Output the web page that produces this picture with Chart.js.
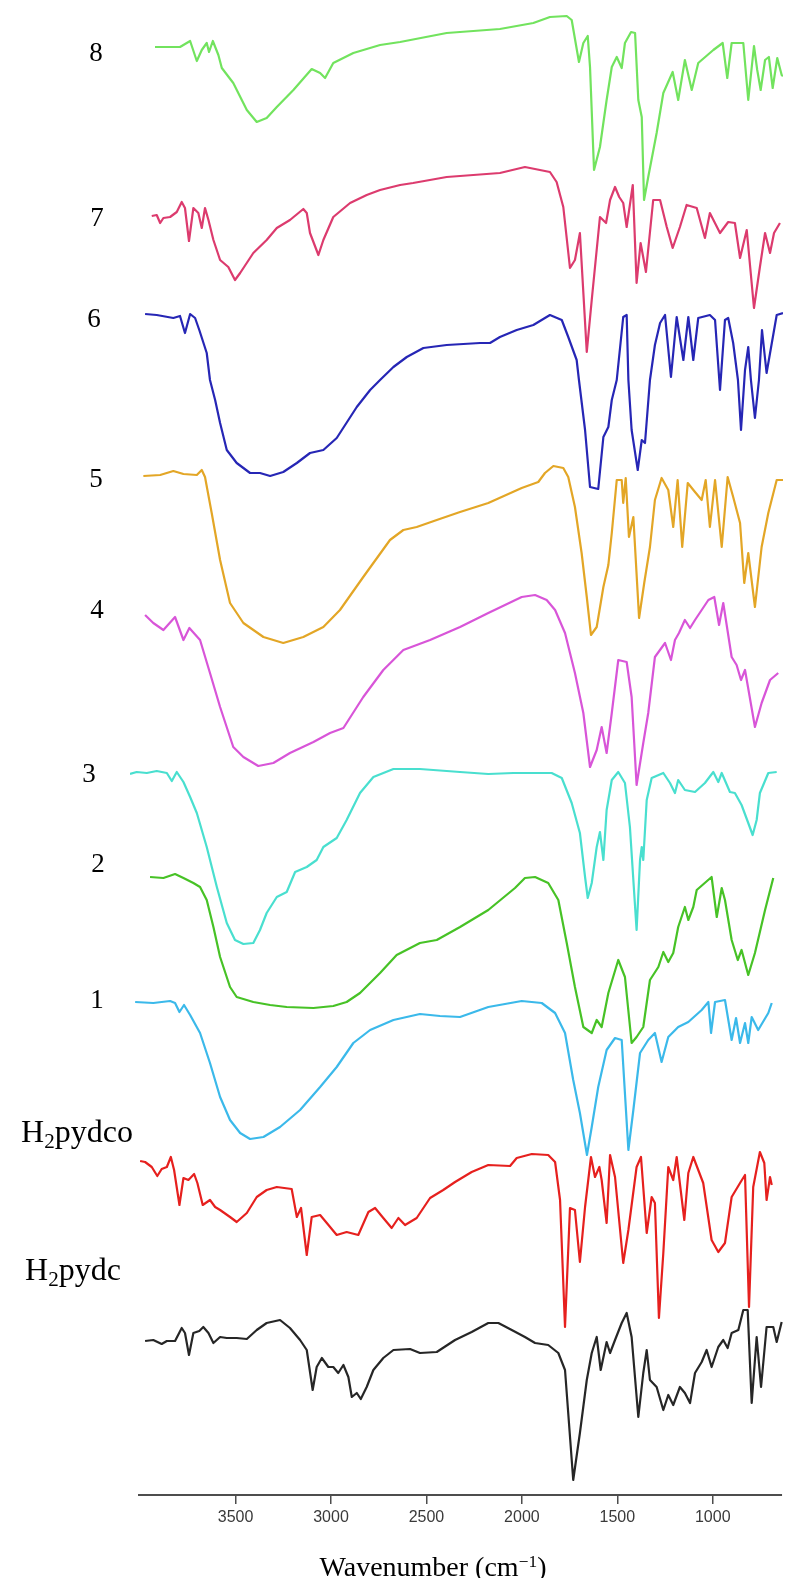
<!DOCTYPE html>
<html>
<head>
<meta charset="utf-8">
<title>FT-IR spectra</title>
<script src="https://cdn.jsdelivr.net/npm/chart.js@4.4.0/dist/chart.umd.min.js"></script>
<style>
  html, body { margin: 0; padding: 0; background: #fff; }
  #wrap { position: relative; width: 785px; height: 1578px; overflow: hidden; }
  #chart { position: absolute; left: 0; top: 0; }
  .lbl {
    position: absolute;
    font-family: "Liberation Serif", "Times New Roman", serif;
    font-size: 27px;
    color: #000;
    line-height: 1;
    white-space: nowrap;
    transform: translate(-50%, -50%);
  }
  .lbl.long { font-size: 32px; }
  .lbl sub { font-size: 0.66em; vertical-align: -0.28em; }
  #xtitle {
    position: absolute;
    left: 433px;
    top: 1567px;
    transform: translate(-50%, -50%);
    font-family: "Liberation Serif", "Times New Roman", serif;
    font-size: 28px;
    color: #000;
    white-space: nowrap;
    line-height: 1;
  }
  #xtitle sup { font-size: 0.62em; vertical-align: 0.55em; }
</style>
</head>
<body>
<div id="wrap">
  <canvas id="chart" width="785" height="1578"></canvas>
  <div id="xtitle">Wavenumber (cm<sup>−1</sup>)</div>
</div>
<script>
// Wavenumber tick labels (cm-1)
const tickValues = [3500, 3000, 2500, 2000, 1500, 1000];
const axisFrom = 4011;
const axisTo = 637;

// Stacked transmittance traces, [wavenumber, offset transmittance (a.u.)]
const spec8 = [[3922,1441],[3791,1441],[3738,1447],[3703,1427],[3677,1438],[3651,1445],[3639,1436],[3619,1447],[3590,1433],[3572,1420],[3512,1405],[3441,1378],[3389,1366],[3337,1370],[3284,1381],[3197,1398],[3101,1419],[3057,1415],[3031,1410],[2988,1425],[2883,1435],[2743,1443],[2638,1446],[2394,1455],[2115,1459],[1940,1465],[1853,1471],[1765,1472],[1739,1468],[1701,1426],[1678,1445],[1655,1452],[1643,1421],[1622,1318],[1591,1341],[1556,1388],[1529,1421],[1503,1431],[1477,1420],[1460,1445],[1428,1456],[1407,1455],[1390,1388],[1372,1371],[1360,1288],[1338,1311],[1294,1355],[1259,1395],[1210,1416],[1181,1388],[1146,1428],[1110,1398],[1076,1425],[997,1438],[948,1445],[924,1410],[901,1445],[840,1445],[814,1388],[784,1442],[767,1418],[749,1398],[726,1428],[706,1431],[686,1400],[662,1430],[639,1413],[632,1412]];

const spec7 = [[3939,1272],[3913,1273],[3895,1265],[3878,1270],[3843,1271],[3808,1276],[3782,1286],[3765,1280],[3744,1247],[3721,1280],[3695,1275],[3677,1260],[3660,1280],[3642,1268],[3616,1248],[3581,1228],[3538,1221],[3503,1208],[3476,1215],[3407,1235],[3337,1248],[3284,1260],[3215,1268],[3145,1279],[3127,1275],[3110,1255],[3066,1233],[3040,1248],[2988,1271],[2900,1285],[2813,1293],[2743,1298],[2638,1303],[2570,1305],[2394,1311],[2115,1315],[1984,1321],[1853,1316],[1818,1306],[1783,1281],[1748,1220],[1722,1228],[1696,1255],[1660,1136],[1634,1188],[1591,1271],[1559,1265],[1538,1288],[1512,1301],[1490,1291],[1469,1285],[1451,1261],[1419,1303],[1399,1205],[1378,1245],[1350,1216],[1312,1288],[1276,1288],[1241,1261],[1210,1240],[1172,1261],[1137,1283],[1084,1280],[1041,1250],[1015,1275],[962,1255],[919,1266],[884,1265],[857,1230],[822,1258],[784,1180],[753,1221],[726,1255],[700,1235],[679,1255],[648,1265]];

const spec6 = [[3974,1174],[3913,1173],[3826,1170],[3791,1172],[3765,1155],[3738,1174],[3712,1170],[3690,1158],[3651,1135],[3634,1108],[3607,1088],[3581,1065],[3546,1038],[3494,1025],[3424,1015],[3372,1015],[3319,1012],[3250,1016],[3179,1025],[3110,1035],[3040,1038],[2970,1050],[2865,1081],[2795,1098],[2743,1108],[2673,1121],[2603,1131],[2516,1140],[2394,1143],[2219,1145],[2167,1145],[2115,1151],[2027,1158],[1940,1163],[1853,1173],[1791,1168],[1757,1151],[1713,1128],[1701,1108],[1669,1058],[1643,1001],[1600,999],[1573,1051],[1547,1061],[1529,1088],[1503,1108],[1469,1171],[1451,1173],[1442,1108],[1425,1058],[1393,1018],[1372,1048],[1355,1045],[1329,1108],[1303,1143],[1276,1165],[1250,1173],[1219,1111],[1189,1171],[1154,1128],[1128,1171],[1102,1128],[1076,1170],[1015,1173],[988,1168],[962,1098],[936,1168],[919,1170],[893,1145],[868,1108],[852,1058],[831,1118],[814,1141],[800,1108],[779,1070],[758,1108],[742,1158],[718,1115],[665,1173],[632,1175]];

const spec5 = [[3983,1012],[3895,1013],[3826,1017],[3773,1014],[3703,1013],[3677,1018],[3660,1011],[3625,975],[3581,928],[3529,885],[3459,865],[3354,851],[3250,845],[3145,851],[3040,861],[2953,878],[2831,911],[2691,948],[2621,958],[2551,961],[2446,968],[2324,976],[2176,985],[2001,1000],[1914,1006],[1879,1015],[1835,1022],[1783,1020],[1757,1011],[1722,981],[1687,935],[1660,891],[1638,853],[1608,861],[1573,901],[1547,923],[1529,955],[1503,1008],[1477,1008],[1469,985],[1456,1010],[1439,951],[1416,971],[1386,870],[1359,905],[1329,941],[1303,988],[1268,1010],[1233,998],[1207,961],[1184,1008],[1160,941],[1131,1005],[1093,996],[1058,988],[1037,1008],[1015,961],[988,1008],[953,941],[922,1011],[893,991],[857,965],[835,905],[814,935],[779,881],[744,941],[709,975],[665,1008],[632,1008]];

const spec4 = [[3974,873],[3931,865],[3878,858],[3817,871],[3773,848],[3742,860],[3686,848],[3634,815],[3581,781],[3512,741],[3459,731],[3381,722],[3302,725],[3215,735],[3092,746],[3005,755],[2935,760],[2831,791],[2726,818],[2621,838],[2481,848],[2324,861],[2176,875],[2001,891],[1931,893],[1870,888],[1826,878],[1774,855],[1722,815],[1678,775],[1643,721],[1608,738],[1582,761],[1556,735],[1529,775],[1495,828],[1451,826],[1425,791],[1399,703],[1364,745],[1338,775],[1303,831],[1250,845],[1219,828],[1198,848],[1177,855],[1146,868],[1119,860],[1093,868],[1023,888],[992,891],[967,863],[945,885],[901,831],[875,823],[852,808],[831,818],[779,761],[744,785],[700,808],[657,815]];

const spec3 = [[4053,714],[4018,716],[3965,715],[3913,717],[3860,715],[3834,707],[3808,716],[3773,706],[3738,691],[3703,675],[3651,641],[3598,601],[3546,565],[3503,548],[3459,544],[3407,545],[3372,558],[3337,575],[3284,591],[3232,596],[3188,616],[3127,621],[3075,628],[3040,641],[2970,650],[2918,668],[2848,695],[2778,711],[2673,719],[2534,719],[2324,716],[2176,714],[2045,715],[1844,715],[1791,710],[1739,685],[1696,655],[1669,611],[1655,590],[1634,605],[1608,641],[1591,656],[1573,628],[1556,678],[1529,708],[1495,716],[1460,705],[1434,661],[1399,558],[1381,628],[1372,641],[1364,628],[1346,688],[1320,710],[1259,715],[1224,705],[1198,695],[1181,708],[1146,698],[1093,696],[1041,705],[997,716],[971,706],[953,715],[910,696],[884,695],[849,683],[814,665],[791,653],[770,668],[753,695],[709,715],[665,716]];

const spec2 = [[3948,611],[3878,610],[3817,614],[3773,610],[3721,605],[3686,601],[3651,588],[3616,561],[3581,531],[3529,501],[3494,491],[3407,486],[3319,483],[3232,481],[3092,480],[2988,482],[2918,486],[2848,495],[2743,515],[2656,533],[2534,545],[2446,548],[2324,561],[2176,578],[2036,600],[1984,610],[1931,611],[1862,605],[1809,588],[1765,545],[1722,501],[1678,461],[1634,455],[1608,468],[1582,461],[1547,495],[1495,528],[1460,511],[1425,445],[1399,451],[1364,461],[1329,508],[1285,521],[1259,536],[1233,526],[1207,535],[1181,561],[1146,581],[1128,568],[1102,581],[1084,598],[1006,611],[979,571],[953,600],[936,588],[901,548],[869,528],[849,538],[814,513],[779,535],[726,578],[683,610]];

const spec1 = [[4026,486],[3931,485],[3843,487],[3817,485],[3794,476],[3770,483],[3738,473],[3686,455],[3634,425],[3581,391],[3529,368],[3476,355],[3424,349],[3354,351],[3267,361],[3162,378],[3057,401],[2970,421],[2883,445],[2795,458],[2673,468],[2534,474],[2429,472],[2324,471],[2176,481],[2001,487],[1896,485],[1826,475],[1774,455],[1731,408],[1696,375],[1659,333],[1634,361],[1600,401],[1556,438],[1512,450],[1477,448],[1442,338],[1416,378],[1381,435],[1338,448],[1303,455],[1268,426],[1233,451],[1181,461],[1128,466],[1058,478],[1023,486],[1009,455],[988,486],[936,488],[901,448],[878,470],[857,445],[831,465],[814,445],[796,471],[762,458],[709,475],[691,485]];

const specPydco = [[4000,327],[3974,326],[3939,321],[3910,312],[3887,319],[3860,321],[3839,331],[3822,318],[3794,283],[3773,310],[3747,308],[3717,314],[3700,305],[3672,283],[3634,288],[3607,281],[3581,278],[3529,271],[3494,266],[3441,275],[3389,291],[3337,298],[3284,301],[3206,299],[3179,271],[3157,280],[3127,233],[3101,271],[3057,273],[3022,265],[2970,253],[2918,256],[2857,253],[2804,276],[2769,280],[2726,270],[2682,260],[2647,270],[2612,263],[2551,270],[2481,290],[2412,298],[2350,306],[2263,316],[2176,323],[2062,322],[2027,330],[1948,334],[1862,333],[1826,326],[1800,288],[1774,161],[1748,280],[1722,278],[1696,226],[1669,281],[1638,331],[1617,311],[1594,321],[1582,308],[1556,265],[1538,333],[1512,311],[1469,225],[1442,258],[1399,321],[1376,331],[1346,255],[1320,291],[1303,285],[1282,170],[1259,235],[1233,321],[1207,308],[1189,331],[1149,268],[1128,315],[1102,331],[1050,305],[1006,248],[971,236],[936,245],[901,291],[857,305],[831,313],[810,181],[788,301],[753,336],[730,325],[718,288],[700,311],[691,303]];

const specPydc = [[3974,147],[3931,148],[3887,144],[3860,147],[3817,147],[3782,160],[3765,155],[3744,133],[3721,155],[3690,157],[3669,161],[3642,155],[3616,145],[3581,151],[3546,150],[3494,150],[3441,149],[3389,158],[3337,165],[3267,168],[3215,160],[3162,148],[3127,138],[3096,98],[3075,121],[3048,130],[3014,121],[2988,121],[2962,115],[2935,123],[2909,111],[2891,91],[2865,95],[2844,89],[2813,101],[2778,118],[2726,130],[2673,138],[2586,139],[2534,135],[2446,136],[2350,148],[2263,156],[2176,165],[2123,165],[2053,158],[1984,151],[1931,145],[1862,143],[1809,135],[1774,118],[1731,8],[1696,55],[1660,108],[1634,135],[1608,151],[1587,118],[1556,146],[1538,135],[1512,148],[1477,165],[1451,175],[1425,151],[1390,71],[1364,115],[1346,138],[1329,108],[1294,101],[1259,78],[1233,93],[1207,83],[1172,101],[1146,95],[1119,85],[1093,115],[1058,126],[1032,138],[1006,121],[971,141],[945,148],[922,140],[901,155],[866,158],[840,178],[817,178],[796,85],[770,151],[747,101],[718,161],[683,161],[665,146],[639,166]];

const seriesNames = ["8", "7", "6", "5", "4", "3", "2", "1", "H2pydco", "H2pydc"];
const seriesData = [spec8, spec7, spec6, spec5, spec4, spec3, spec2, spec1, specPydco, specPydc];

// styling
const seriesColors = ["#72e35e", "#dc3b6e", "#2626b5", "#e3a626", "#d855d8", "#49dfcf", "#47c226", "#3bb9ea", "#e6201e", "#262626"];
// label placement (px) for the trace names on the left
const labelPos = [[96, 52], [97, 217], [94, 318], [96, 478], [97, 609], [89, 773], [98, 863], [97, 999], [77, 1134], [73, 1272]];

const wrap = document.getElementById("wrap");
seriesNames.forEach((name, i) => {
  const div = document.createElement("div");
  div.className = name.length > 2 ? "lbl long" : "lbl";
  div.innerHTML = name.replace("H2", "H<sub>2</sub>");
  div.style.left = labelPos[i][0] + "px";
  div.style.top = labelPos[i][1] + "px";
  wrap.appendChild(div);
});

// Plain axis line, only as long as the original one
const axisLine = {
  id: "axisLine",
  afterDraw(chart) {
    const xs = chart.scales.x;
    const ctx = chart.ctx;
    const y = chart.chartArea.bottom;
    ctx.save();
    ctx.strokeStyle = "#4d4d4d";
    ctx.lineWidth = 2;
    ctx.beginPath();
    ctx.moveTo(xs.getPixelForValue(axisFrom), y);
    ctx.lineTo(xs.getPixelForValue(axisTo), y);
    ctx.stroke();
    ctx.restore();
  }
};

const ctx = document.getElementById("chart").getContext("2d");
new Chart(ctx, {
  type: "line",
  data: {
    datasets: seriesData.map((d, i) => ({
      label: seriesNames[i],
      data: d.map((p) => ({ x: p[0], y: p[1] })),
      borderColor: seriesColors[i],
      borderWidth: 2.2,
      pointRadius: 0,
      tension: 0,
      borderJoinStyle: "round",
      fill: false
    }))
  },
  options: {
    responsive: false,
    animation: false,
    devicePixelRatio: 1,
    layout: { padding: { left: 130, right: 2, top: 0, bottom: 0 } },
    plugins: {
      legend: { display: false },
      tooltip: { enabled: false }
    },
    scales: {
      x: {
        type: "linear",
        reverse: true,
        min: 632,
        max: 4053,
        afterBuildTicks: (scale) => {
          scale.ticks = tickValues.map((v) => ({ value: v }));
        },
        afterFit: (scale) => {
          scale.height = 83;
        },
        border: { display: false },
        grid: {
          drawOnChartArea: false,
          drawTicks: true,
          tickLength: 9,
          color: "#4d4d4d",
          lineWidth: 1.5
        },
        ticks: {
          color: "#3a3a3a",
          padding: 4,
          maxRotation: 0,
          font: { family: "'Liberation Sans', Arial, sans-serif", size: 16 },
          callback: (v) => String(v)
        }
      },
      y: {
        display: false,
        min: -7,
        max: 1488
      }
    }
  },
  plugins: [axisLine]
});
</script>
</body>
</html>
